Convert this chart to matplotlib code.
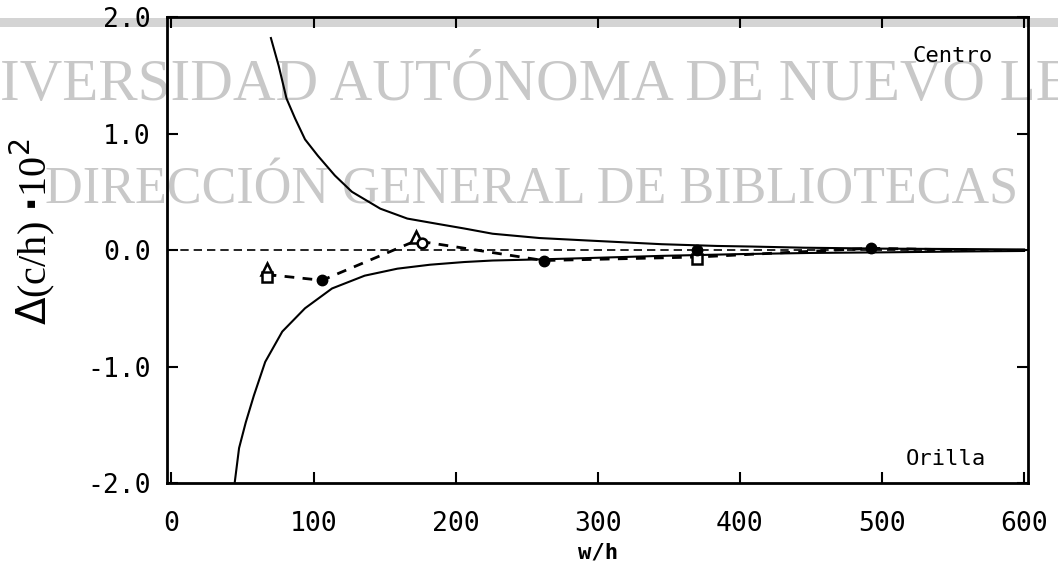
import matplotlib
matplotlib.use("Agg")
import matplotlib.pyplot as plt
from matplotlib.patches import Rectangle

# Curves (w/h, delta(c/h)*1e2)
centro_x = [70, 75.5, 81, 87, 94, 103, 115, 127, 147, 166, 187, 206, 226, 259, 291, 345, 384, 408, 445, 500, 560, 600]
centro_y = [1.82, 1.58, 1.30, 1.13, 0.95, 0.81, 0.64, 0.50, 0.355, 0.27, 0.225, 0.185, 0.14, 0.103, 0.083, 0.05, 0.035, 0.03, 0.02, 0.012, 0.008, 0.005]

orilla_x = [44.6, 47.6, 52.3, 58, 66, 78, 94, 113, 136, 159, 182, 206, 226, 260, 290, 345, 400, 450, 500, 560, 600]
orilla_y = [-1.99, -1.70, -1.48, -1.25, -0.96, -0.70, -0.50, -0.33, -0.22, -0.16, -0.126, -0.103, -0.09, -0.08, -0.07, -0.05, -0.035, -0.025, -0.02, -0.012, -0.008]

# measured points, connected by a dashed line
meas_x = [67, 106, 172, 262, 370, 492, 560]
meas_y = [-0.21, -0.26, 0.08, -0.09, -0.06, 0.015, 0.0]

open_tri_x = [67, 172]
open_tri_y = [-0.16, 0.11]
open_sq_x = [67, 370]
open_sq_y = [-0.23, -0.08]
open_circ_x = [176]
open_circ_y = [0.06]
filled_x = [106, 262, 370, 492]
filled_y = [-0.26, -0.09, 0.0, 0.02]

xticks = [0, 100, 200, 300, 400, 500, 600]
yticks = [-2.0, -1.0, 0.0, 1.0, 2.0]

fig = plt.figure(figsize=(10.58, 5.62), dpi=100)
ax = fig.add_axes([0.158, 0.1406, 0.814, 0.829])
ax.patch.set_alpha(0)

# scan watermark behind everything
fig.patches.append(Rectangle((0, 1 - 27 / 562), 1, 9 / 562, transform=fig.transFigure,
                             facecolor="#d4d4d4", edgecolor="none", zorder=-5))
fig.text(0, 1 - 100 / 562, "IVERSIDAD AUTÓNOMA DE NUEVO LE", ha="left", va="baseline",
         fontsize=42.5, family="Liberation Serif", color="#c8c8c8", zorder=-4)
fig.text(45 / 1058, 1 - 203 / 562, "DIRECCIÓN GENERAL DE BIBLIOTECAS", ha="left", va="baseline",
         fontsize=37.5, family="Liberation Serif", color="#c8c8c8", zorder=-4)

ax.plot(centro_x, centro_y, color="black", lw=1.5)
ax.plot(orilla_x, orilla_y, color="black", lw=1.5)
ax.axhline(0, color="black", lw=1.2, ls=(0, (5, 3)))
ax.plot(meas_x, meas_y, color="black", lw=2, ls=(0, (3.5, 3)))

ax.plot(open_tri_x, open_tri_y, ls="none", marker="^", ms=8, mfc="white", mec="black", mew=1.8)
ax.plot(open_sq_x, open_sq_y, ls="none", marker="s", ms=6.5, mfc="white", mec="black", mew=1.8)
ax.plot(open_circ_x, open_circ_y, ls="none", marker="o", ms=7, mfc="white", mec="black", mew=1.8)
ax.plot(filled_x, filled_y, ls="none", marker="o", ms=7.5, color="black")

ax.text(550, 1.67, "Centro", ha="center", va="center", family="DejaVu Sans Mono", fontsize=16)
ax.text(545, -1.79, "Orilla", ha="center", va="center", family="DejaVu Sans Mono", fontsize=16)

ax.set_xlim(-3, 603)
ax.set_ylim(-2.0, 2.0)
ax.set_xticks(xticks)
ax.set_yticks(yticks)
ax.set_yticklabels([f"{v:.1f}" for v in yticks])
ax.tick_params(direction="in", length=8, width=1.5, top=True, right=True,
               labelsize=19, pad=12)
ax.tick_params(axis="x", pad=20)
for lab in ax.get_xticklabels() + ax.get_yticklabels():
    lab.set_family("DejaVu Sans Mono")
for sp in ax.spines.values():
    sp.set_linewidth(2)

ax.set_xlabel("w/h", family="DejaVu Sans Mono", fontsize=16, fontweight="bold", labelpad=4)
ax.set_ylabel(r"$\Delta$(c/h) $\mathbf{\cdot}$10$^2$", family="Liberation Serif", fontsize=29)
ax.yaxis.set_label_coords(-0.128, 0.54)

fig.savefig("out.png", dpi=100)
